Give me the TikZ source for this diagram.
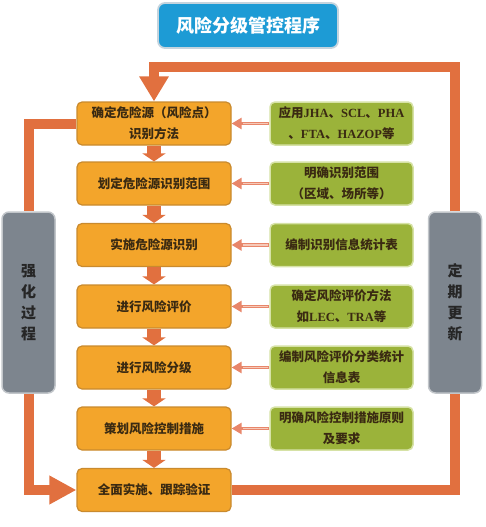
\documentclass[tikz,border=0pt]{standalone}
\usepackage{fontspec}
\setmainfont{Noto Sans CJK SC}
\newfontfamily\lat{Liberation Serif}
\usetikzlibrary{arrows.meta,shadows}
\definecolor{loopc}{HTML}{E1703F}
\definecolor{orfill}{HTML}{F3A52B}
\definecolor{ordraw}{HTML}{C98A2E}
\definecolor{grfill}{HTML}{9BB33A}
\definecolor{grdraw}{HTML}{D6E2A6}
\definecolor{tifill}{HTML}{1D9BD5}
\definecolor{tidraw}{HTML}{C4D4DE}
\definecolor{gyfill}{HTML}{7D858E}
\definecolor{gydraw}{HTML}{C2C6CA}
\definecolor{txt}{HTML}{3A2A12}
\definecolor{smallc}{HTML}{E8866A}
\definecolor{smallin}{HTML}{F6C9B8}
\begin{document}
\begin{tikzpicture}[x=1pt,y=-1pt,
  orbox/.style={draw=ordraw,line width=1.2pt,fill=orfill,rounded corners=5pt,minimum width=154pt,minimum height=43pt,inner sep=2pt,align=center,text=txt,font=\fontsize{12.5}{21}\selectfont\bfseries},
  grbox/.style={draw=grdraw,line width=1.5pt,fill=grfill,rounded corners=5pt,minimum width=143pt,minimum height=43pt,inner sep=2pt,align=center,text=txt,font=\fontsize{12.5}{21}\selectfont\bfseries},
  gybox/.style={draw=gydraw,line width=1.5pt,fill=gyfill,rounded corners=7pt,minimum width=53pt,minimum height=181pt,inner sep=2pt,align=center,text=black!85,font=\fontsize{15}{21}\selectfont\bfseries},
  titlebox/.style={draw=tidraw,line width=1.8pt,fill=tifill,rounded corners=7pt,minimum width=180pt,minimum height=45pt,text=white,font=\fontsize{18}{22}\selectfont\bfseries},
  bigloop/.style={draw=loopc,line width=10pt,line join=miter},
  downarr/.style={draw=loopc,line width=14pt,-{Triangle[width=23pt,length=8pt]}},
  smallarr/.style={draw=smallc,line width=3.5pt,-{Triangle[width=11pt,length=10pt]}},
]
\useasboundingbox (0,0) rectangle (486,527);
\node[titlebox] (title) at (248,25.5) {风险分级管控程序};

\node[orbox] (o1) at (154,123.5) {确定危险源（风险点）\\识别方法};
\node[orbox] (o2) at (154,183.5) {划定危险源识别范围};
\node[orbox] (o3) at (154,245) {实施危险源识别};
\node[orbox] (o4) at (154,306.5) {进行风险评价};
\node[orbox] (o5) at (154,367.5) {进行风险分级};
\node[orbox] (o6) at (154,428.5) {策划风险控制措施};
\node[orbox] (o7) at (154,490) {全面实施、跟踪验证};

\node[grbox] (g1) at (341.5,123.5) {应用{\lat JHA}、{\lat SCL}、{\lat PHA}\\、{\lat FTA}、{\lat HAZOP}等};
\node[grbox] (g2) at (341.5,183.5) {明确识别范围\\（区域、场所等）};
\node[grbox] (g3) at (341.5,245) {编制识别信息统计表};
\node[grbox] (g4) at (341.5,306.5) {确定风险评价方法\\如{\lat LEC}、{\lat TRA}等};
\node[grbox] (g5) at (341.5,367.5) {编制风险评价分类统计\\信息表};
\node[grbox] (g6) at (341.5,428.5) {明确风险控制措施原则\\及要求};

\node[gybox] (gl) at (28.5,302.5) {强\\化\\过\\程};
\node[gybox] (gr) at (455,302.5) {定\\期\\更\\新};

\coordinate (tp) at (455,67);

% big loop
\draw[bigloop] (o1.west) -| (gl.north);
\draw[bigloop,-{Triangle[width=27pt,length=27pt]}] (gl.south) |- (o7.west);
\draw[bigloop] (o7.east) -| (gr.south);
\draw[bigloop,-{Triangle[width=28pt,length=25pt]}] (gr.north) -- (tp) -| (o1.north);

% down arrows
\foreach \a/\b in {o1/o2,o2/o3,o3/o4,o4/o5,o5/o6,o6/o7}
  \draw[downarr] (\a.south) -- (\b.north);

% small arrows
\foreach \i in {1,...,6}{
  \draw[smallarr] (g\i.west) -- (o\i.east);
  \draw[smallin,line width=1.2pt] ([xshift=-1pt]g\i.west) -- ([xshift=11pt]o\i.east);
}
\end{tikzpicture}
\end{document}
